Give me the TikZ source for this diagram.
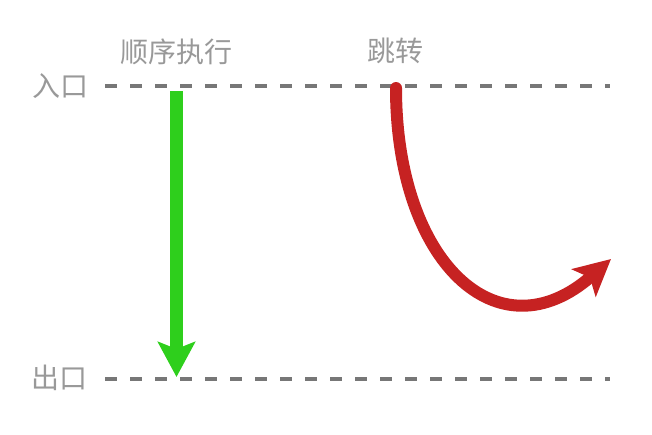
\documentclass[tikz,border=0pt]{standalone}
\usepackage{fontspec}
\setmainfont{Noto Sans CJK SC}
\usetikzlibrary{arrows.meta}
\definecolor{lbl}{HTML}{999999}
\definecolor{dashc}{HTML}{777777}
\definecolor{grn}{HTML}{2ECF1C}
\definecolor{rd}{HTML}{C62222}
\begin{document}
\begin{tikzpicture}[x=1pt,y=-1pt,
  lab/.style={text=lbl, font=\fontsize{28}{28}\selectfont, inner sep=0pt},
  guide/.style={draw=dashc, line width=4pt, dash pattern=on 12pt off 13pt},
  seqarrow/.style={draw=grn, line width=13pt, -{Stealth[length=35pt,width=37pt,inset=7pt]}},
  jumparrow/.style={draw=rd, line width=12pt, line cap=round, -{Stealth[length=36pt,width=36pt,inset=8pt]}}]
\useasboundingbox (0,0) rectangle (652,434);
% guide lines
\coordinate (inL) at (105,86);
\coordinate (inR) at (610,86);
\coordinate (outL) at (105,378.5);
\coordinate (outR) at (610,378.5);
\draw[guide] (inL) -- (inR);
\draw[guide] (outL) -- (outR);
% labels
\node[lab] (entry) at (60,86.5) {入口};
\node[lab] (exit) at (59,378) {出口};
\node[lab] (seq) at (176.5,51.5) {顺序执行};
\node[lab] (jump) at (395,51) {跳转};
% arrows
\coordinate (gs) at (176.5,91);
\coordinate (ge) at (176.5,377);
\draw[seqarrow] (gs) -- (ge);
\coordinate (rs) at (396,88);
\coordinate (re) at (611,259);
\draw[jumparrow] (rs) .. controls (396,262) and (498,358) .. (re);
\end{tikzpicture}
\end{document}
